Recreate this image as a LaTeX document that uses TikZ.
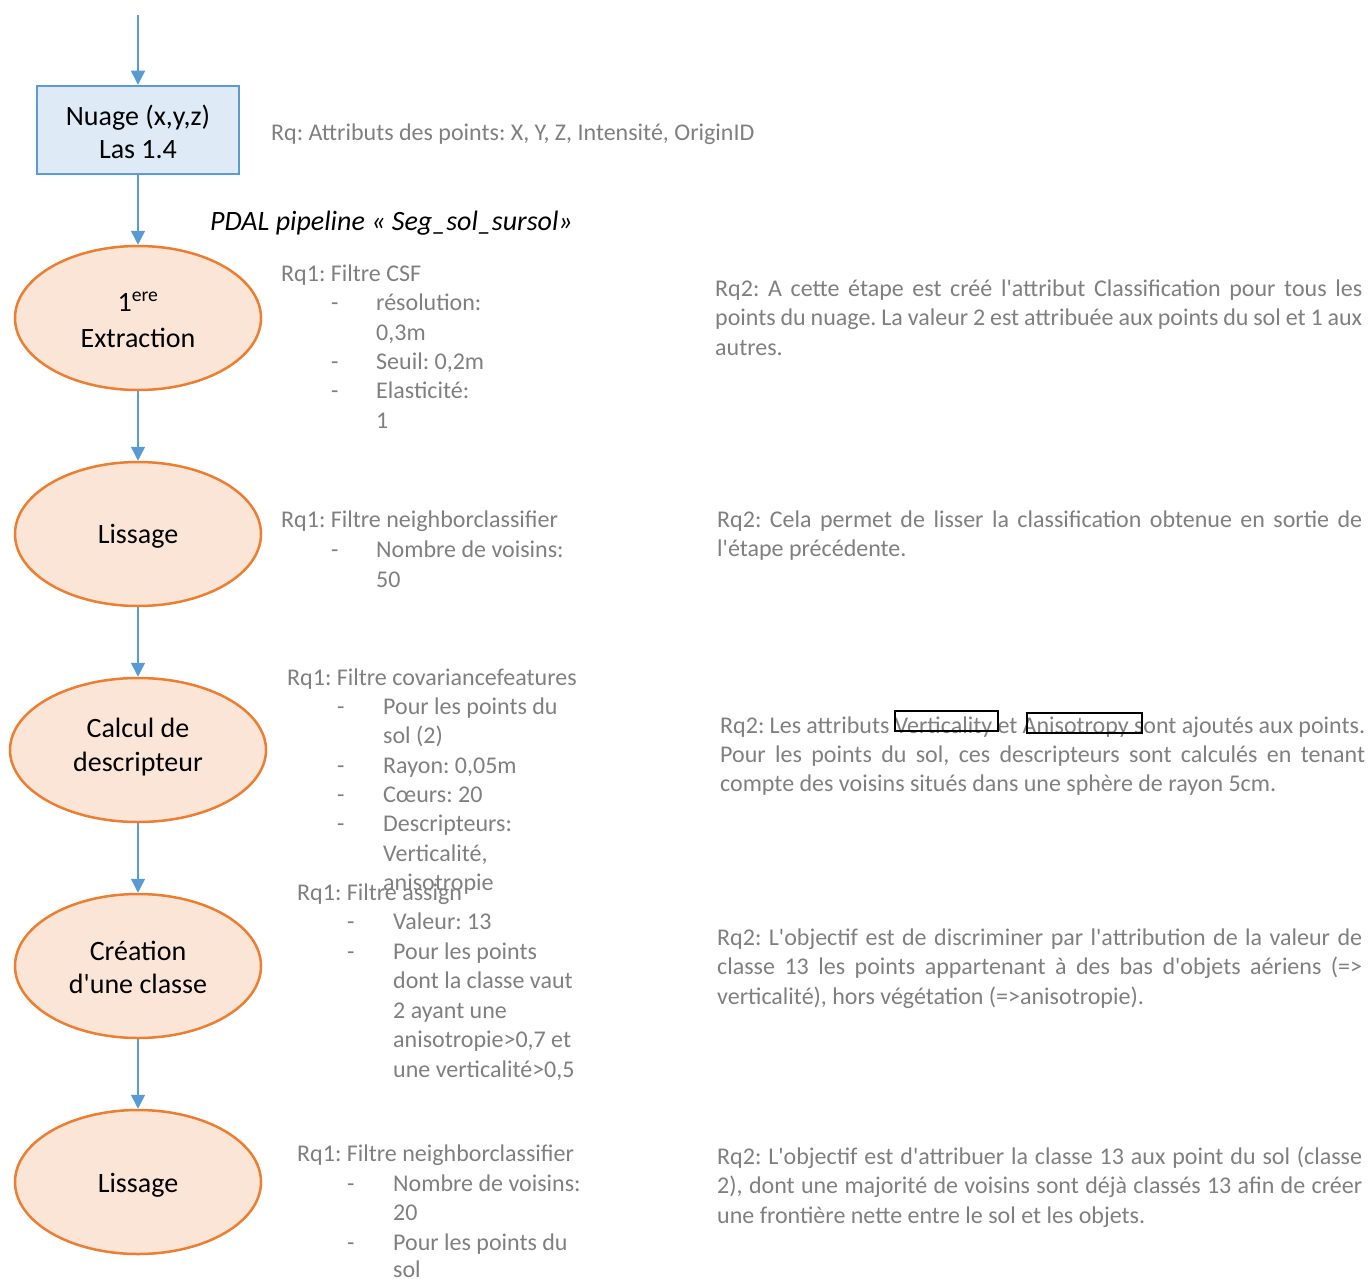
\documentclass[tikz,border=0pt]{standalone}
\usepackage{fontspec}
\setmainfont{Carlito}[Ligatures=TeXOff]
\usetikzlibrary{shapes.geometric,arrows.meta}
\definecolor{bfill}{HTML}{DEEBF7}
\definecolor{bline}{HTML}{5B9BD5}
\definecolor{ofill}{HTML}{FBE5D6}
\definecolor{oline}{HTML}{ED7D31}
\definecolor{gtext}{HTML}{7F7F7F}
\newcommand\jl[2]{\makebox[#1][s]{#2}}
\newcommand\rql[4]{\node[rq] (#1) at (#2,#3) {#4};}
\newcommand\nt[2]{\raisebox{#1}[0pt][0pt]{\begin{tabular}[t]{@{}c@{}}#2\end{tabular}}}
\frenchspacing
\begin{document}
\frenchspacing
\begin{tikzpicture}[x=1pt,y=-1pt,
 stepell/.style={ellipse, draw=oline, fill=ofill, line width=2.5pt, minimum width=246pt, minimum height=144pt, inner sep=0pt, align=center, font=\fontsize{28}{34}\selectfont},
 datab/.style={rectangle, draw=bline, fill=bfill, line width=2.5pt, minimum width=202pt, minimum height=88pt, inner sep=0pt, align=center, font=\fontsize{28}{34}\selectfont},
 flow/.style={draw=bline, line width=1.5pt, -{Triangle[width=14pt,length=14pt]}},
 rq/.style={text=gtext, font=\fontsize{24}{29.4}\selectfont, inner sep=0pt, anchor=base west},
 mark box/.style={draw=black, line width=1.2pt},
]
\useasboundingbox (0,0) rectangle (1370,1279);

% main flow
\coordinate (start) at (138,15);
\node[datab] (nuage) at (138,130) {\nt{5pt}{Nuage (x,y,z)\\[-0.5pt]Las 1.4}};
\node[stepell] (extr) at (138,318) {\nt{7pt}{1\textsuperscript{ere}\\[2pt]Extraction}};
\node[stepell] (liss1) at (138,534) {\nt{-9pt}{Lissage}};
\node[stepell, minimum width=256pt] (calc) at (138,750) {\nt{13pt}{Calcul de\\descripteur}};
\node[stepell] (crea) at (138,966) {\nt{6pt}{Création\\[-1pt]d'une classe}};
\node[stepell] (liss2) at (138,1182) {\nt{-10pt}{Lissage}};

\draw[flow] (start) -- (nuage);
\draw[flow] (nuage) -- (extr);
\draw[flow] (extr) -- (liss1);
\draw[flow] (liss1) -- (calc);
\draw[flow] (calc) -- (crea);
\draw[flow] (crea) -- (liss2);

\node[font=\fontsize{28}{34}\selectfont\itshape, anchor=base west, inner sep=0pt] (pdal) at (210,230) {PDAL pipeline « Seg\_sol\_sursol»};

\rql{rq0}{271}{140}{Rq: Attributs des points: X, Y, Z, Intensité, OriginID}

% Rq1 blocks
\rql{a1}{281}{281}{Rq1: Filtre CSF}
\rql{a2d}{331}{310.5}{-}\rql{a2}{376}{310.5}{résolution:}
\rql{a3}{376}{340}{0,3m}
\rql{a4d}{331}{369}{-}\rql{a4}{376}{369}{Seuil: 0,2m}
\rql{a5d}{331}{398.5}{-}\rql{a5}{376}{398.5}{Elasticité:}
\rql{a6}{376}{428}{1}

\rql{b1}{281}{527}{Rq1: Filtre neighborclassifier}
\rql{b2d}{331}{557}{-}\rql{b2}{376}{557}{Nombre de voisins:}
\rql{b3}{376}{587}{50}

\rql{c1}{287}{685}{Rq1: Filtre covariancefeatures}
\rql{c2d}{337}{714}{-}\rql{c2}{383}{714}{Pour les points du}
\rql{c3}{383}{743.5}{sol (2)}
\rql{c4d}{337}{773}{-}\rql{c4}{383}{773}{Rayon: 0,05m}
\rql{c5d}{337}{802}{-}\rql{c5}{383}{802}{Cœurs: 20}
\rql{c6d}{337}{831.5}{-}\rql{c6}{383}{831.5}{Descripteurs:}
\rql{c7}{383}{861}{Verticalité,}
\rql{c8}{383}{890}{anisotropie}

\rql{d1}{297}{900}{Rq1: Filtre assign}
\rql{d2d}{347}{929}{-}\rql{d2}{393}{929}{Valeur: 13}
\rql{d3d}{347}{959}{-}\rql{d3}{393}{959}{Pour les points}
\rql{d4}{393}{988}{dont la classe vaut}
\rql{d5}{393}{1018}{2 ayant une}
\rql{d6}{393}{1047}{anisotropie>0,7 et}
\rql{d7}{393}{1077}{une verticalité>0,5}

\rql{e1}{297}{1161}{Rq1: Filtre neighborclassifier}
\rql{e2d}{347}{1191}{-}\rql{e2}{393}{1191}{Nombre de voisins:}
\rql{e3}{393}{1220}{20}
\rql{e4d}{347}{1250}{-}\rql{e4}{393}{1250}{Pour les points du}
\rql{e5}{393}{1277}{sol}

% Rq2 blocks
\rql{f1}{715}{296}{\jl{647pt}{Rq2: A cette étape est créé l'attribut Classification pour tous les}}
\rql{f2}{715}{325}{\jl{647pt}{points du nuage. La valeur 2 est attribuée aux points du sol et 1 aux}}
\rql{f3}{715}{355}{autres.}

\rql{g1}{717}{527}{\jl{645pt}{Rq2: Cela permet de lisser la classification obtenue en sortie de}}
\rql{g2}{717}{556}{l'étape précédente.}

\rql{h1}{720}{733}{\jl{645pt}{Rq2: Les attributs Verticality et Anisotropy sont ajoutés aux points.}}
\rql{h2}{720}{762}{\jl{645pt}{Pour les points du sol, ces descripteurs sont calculés en tenant}}
\rql{h3}{720}{791}{compte des voisins situés dans une sphère de rayon 5cm.}
\draw[mark box] (895,711) rectangle (998,731);
\draw[mark box] (1027,713) rectangle (1142,733);

\rql{i1}{717}{945}{\jl{645pt}{Rq2: L'objectif est de discriminer par l'attribution de la valeur de}}
\rql{i2}{717}{974}{\jl{645pt}{classe 13 les points appartenant à des bas d'objets aériens (=>}}
\rql{i3}{717}{1004}{verticalité), hors végétation (=>anisotropie).}

\rql{j1}{717}{1164}{\jl{645pt}{Rq2: L'objectif est d'attribuer la classe 13 aux point du sol (classe}}
\rql{j2}{717}{1193}{\jl{645pt}{2), dont une majorité de voisins sont déjà classés 13 afin de créer}}
\rql{j3}{717}{1223}{une frontière nette entre le sol et les objets.}
\end{tikzpicture}
\end{document}
